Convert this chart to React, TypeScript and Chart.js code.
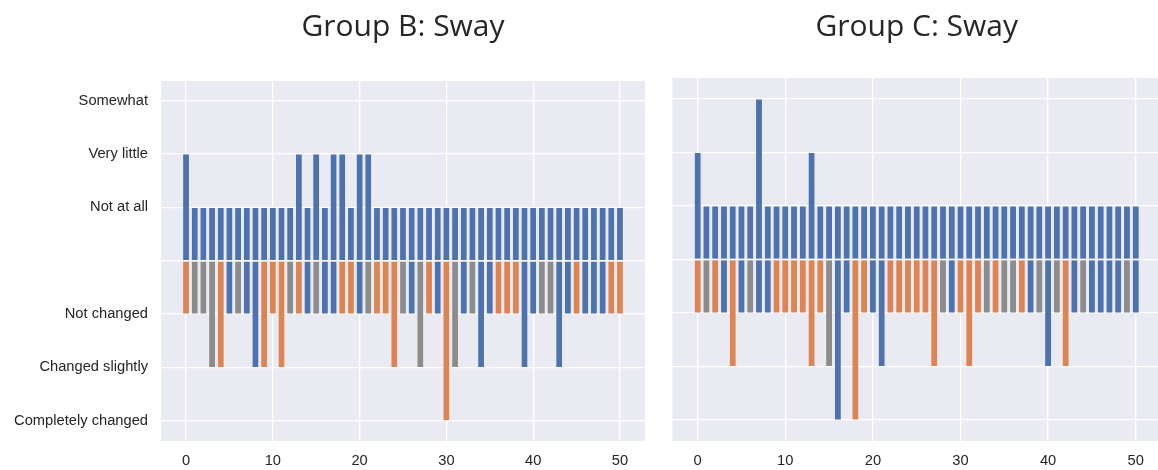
import React, { useEffect, useRef } from "react";
import { Chart, registerables } from "chart.js";

Chart.register(...registerables);

// ---------- data ----------
const xValues = [
  0, 1, 2, 3, 4, 5, 6, 7, 8, 9, 10, 11, 12, 13, 14, 15, 16, 17, 18, 19, 20,
  21, 22, 23, 24, 25, 26, 27, 28, 29, 30, 31, 32, 33, 34, 35, 36, 37, 38, 39,
  40, 41, 42, 43, 44, 45, 46, 47, 48, 49, 50,
];
const xTickValues = [0, 10, 20, 30, 40, 50];
const yTickValues = [3, 2, 1, 0, -1, -2, -3];
const yTickLabels = [
  "Somewhat",
  "Very little",
  "Not at all",
  "",
  "Not changed",
  "Changed slightly",
  "Completely changed",
];

const groupBUpper = [
  2, 1, 1, 1, 1, 1, 1, 1, 1, 1, 1, 1, 1, 2, 1, 2, 1, 2, 2, 1, 2, 2, 1, 1, 1,
  1, 1, 1, 1, 1, 1, 1, 1, 1, 1, 1, 1, 1, 1, 1, 1, 1, 1, 1, 1, 1, 1, 1, 1, 1, 1,
];
const groupBLower = [
  -1, -1, -1, -2, -2, -1, -1, -1, -2, -2, -1, -2, -1, -1, -1, -1, -1, -1, -1,
  -1, -1, -1, -1, -1, -2, -1, -1, -2, -1, -1, -3, -2, -1, -1, -2, -1, -1, -1,
  -1, -2, -1, -1, -1, -2, -1, -1, -1, -1, -1, -1, -1,
];
const groupBLowerCat = [
  "o", "g", "g", "g", "o", "b", "g", "b", "b", "o",
  "o", "o", "g", "o", "b", "g", "b", "b", "o", "o",
  "b", "g", "o", "o", "o", "g", "b", "g", "o", "b",
  "o", "g", "b", "g", "b", "b", "o", "o", "o", "b",
  "b", "g", "g", "b", "b", "o", "b", "b", "b", "o",
  "o",
];

const groupCUpper = [
  2, 1, 1, 1, 1, 1, 1, 3, 1, 1, 1, 1, 1, 2, 1, 1, 1, 1, 1, 1, 1, 1, 1, 1, 1,
  1, 1, 1, 1, 1, 1, 1, 1, 1, 1, 1, 1, 1, 1, 1, 1, 1, 1, 1, 1, 1, 1, 1, 1, 1, 1,
];
const groupCLower = [
  -1, -1, -1, -1, -2, -1, -1, -1, -1, -1, -1, -1, -1, -2, -1, -2, -3, -1, -3,
  -1, -1, -2, -1, -1, -1, -1, -1, -2, -1, -1, -1, -2, -1, -1, -1, -1, -1, -1,
  -1, -1, -2, -1, -2, -1, -1, -1, -1, -1, -1, -1, -1,
];
const groupCLowerCat = [
  "o", "g", "o", "b", "o", "b", "g", "b", "b", "o",
  "o", "o", "o", "o", "o", "g", "b", "b", "o", "o",
  "b", "b", "o", "o", "o", "o", "o", "o", "g", "b",
  "o", "o", "o", "g", "o", "g", "g", "o", "b", "g",
  "b", "g", "o", "b", "g", "b", "b", "b", "b", "g",
  "b",
];

// ---------- styles ----------
const PALETTE: Record<string, string> = {
  b: "#4C72B0",
  o: "#DD8452",
  g: "#8C8C8C",
};
const TICK_FONT = { family: '"Liberation Sans", Arial, sans-serif', size: 14.7 };
const TEXT_COLOR = "#262626";

const bgPlugin = {
  id: "panelBg",
  beforeDraw(chart: any) {
    const { ctx, chartArea: a } = chart;
    ctx.save();
    ctx.fillStyle = "#EAEAF2";
    ctx.fillRect(a.left, a.top, a.right - a.left, a.bottom - a.top);
    ctx.restore();
  },
};

type PanelProps = {
  title: string;
  upper: number[];
  lower: number[];
  lowerCat: string[];
  left: number;
  width: number;
  yAxisWidth: number;
  showYLabels: boolean;
  padRight: number;
  titlePadTop: number;
  titlePadBottom: number;
  yMin: number;
  yMax: number;
};

function Panel(p: PanelProps) {
  const ref = useRef<HTMLCanvasElement | null>(null);
  useEffect(() => {
    if (!ref.current) return;
    const barCommon = {
      grouped: false,
      barPercentage: 0.78,
      categoryPercentage: 1,
      borderColor: "rgba(255,255,255,0.6)",
      borderWidth: 0.5,
    };
    const chart = new Chart(ref.current, {
      type: "bar",
      data: {
        datasets: [
          {
            ...barCommon,
            data: xValues.map((x, i) => ({ x, y: p.upper[i] })),
            backgroundColor: PALETTE.b,
          },
          {
            ...barCommon,
            data: xValues.map((x, i) => ({ x, y: p.lower[i] })),
            backgroundColor: p.lowerCat.map((c) => PALETTE[c]),
          },
        ] as any,
      },
      options: {
        animation: false,
        responsive: false,
        devicePixelRatio: 1,
        layout: { padding: { left: 0, right: p.padRight, top: 0, bottom: 0 } },
        plugins: {
          legend: { display: false },
          tooltip: { enabled: false },
          title: {
            display: true,
            text: p.title,
            fullSize: false,
            color: TEXT_COLOR,
            font: { family: '"Open Sans", "Noto Sans", sans-serif', size: 30, weight: "normal" as any, lineHeight: 1.2 },
            padding: { top: p.titlePadTop, bottom: p.titlePadBottom },
          },
        },
        scales: {
          x: {
            type: "linear",
            min: -2.885,
            max: 52.885,
            offset: false,
            grid: { color: "#ffffff", lineWidth: 1.3, drawTicks: false, offset: false },
            border: { display: false },
            ticks: { padding: 11, color: TEXT_COLOR, font: TICK_FONT, maxRotation: 0 },
            afterBuildTicks: (s: any) => {
              s.ticks = xTickValues.map((v) => ({ value: v }));
            },
            afterFit: (s: any) => {
              s.height = 29;
            },
          },
          y: {
            type: "linear",
            min: p.yMin,
            max: p.yMax,
            grid: { color: "#ffffff", lineWidth: 1.3, drawTicks: false },
            border: { display: false },
            ticks: {
              display: p.showYLabels,
              padding: 13,
              color: TEXT_COLOR,
              font: TICK_FONT,
              callback: (v: any) => {
                const idx = yTickValues.indexOf(Number(v));
                return idx >= 0 ? yTickLabels[idx] : "";
              },
            },
            afterBuildTicks: (s: any) => {
              s.ticks = yTickValues.map((v) => ({ value: v }));
            },
            afterFit: (s: any) => {
              s.width = p.yAxisWidth;
            },
          },
        },
      } as any,
      plugins: [bgPlugin],
    });
    return () => chart.destroy();
  }, []);
  return (
    <canvas
      ref={ref}
      width={p.width}
      height={470}
      style={{ position: "absolute", left: p.left, top: 0, width: p.width, height: 470 }}
    />
  );
}

export default function App() {
  return (
    <div
      style={{
        position: "fixed",
        left: 0,
        top: 0,
        width: 1158,
        height: 470,
        overflow: "hidden",
        background: "#ffffff",
      }}
    >
      <Panel
        title="Group B: Sway"
        upper={groupBUpper}
        lower={groupBLower}
        lowerCat={groupBLowerCat}
        left={0}
        width={650}
        yAxisWidth={161}
        showYLabels={true}
        padRight={5}
        titlePadTop={9}
        titlePadBottom={36}
        yMin={-3.38}
        yMax={3.37}
      />
      <Panel
        title="Group C: Sway"
        upper={groupCUpper}
        lower={groupCLower}
        lowerCat={groupCLowerCat}
        left={655}
        width={515}
        yAxisWidth={17.4}
        showYLabels={false}
        padRight={9}
        titlePadTop={9}
        titlePadBottom={33}
        yMin={-3.39}
        yMax={3.39}
      />
    </div>
  );
}
